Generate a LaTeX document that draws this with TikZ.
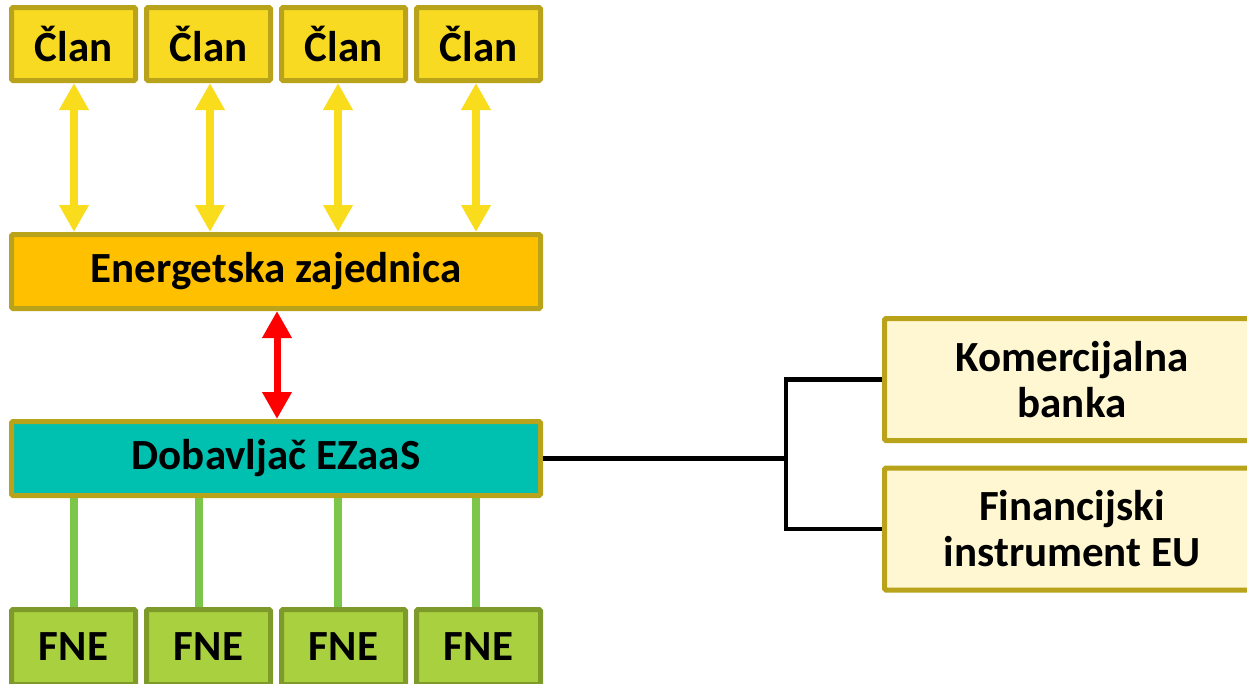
\documentclass[tikz,border=0pt]{standalone}
\usepackage{fontspec}
\setmainfont{Carlito}
\usetikzlibrary{arrows.meta}
\definecolor{olive}{HTML}{B9A31A}
\definecolor{clanfill}{HTML}{F8DA22}
\definecolor{ezfill}{HTML}{FFC000}
\definecolor{dbfill}{HTML}{00C0B0}
\definecolor{fnefill}{HTML}{A9D03E}
\definecolor{fneedge}{HTML}{7D9A2B}
\definecolor{finfill}{HTML}{FEF7D2}
\definecolor{yarr}{HTML}{F9DC1C}
\definecolor{gline}{HTML}{7CC64A}
\tikzset{
  box/.style={draw=olive, line width=5pt, rounded corners=1.5pt, inner sep=0pt, align=center,
    font=\fontsize{43}{46}\selectfont\bfseries},
  clan/.style={box, fill=clanfill, minimum width=124pt, minimum height=73pt},
  wide/.style={box, minimum width=529pt, minimum height=74pt},
  fne/.style={box, draw=fneedge, fill=fnefill, minimum width=124pt, minimum height=75pt},
  fin/.style={box, fill=finfill, minimum width=375pt, minimum height=122pt},
  yarrow/.style={draw=yarr, line width=8pt, {Triangle[width=28pt,length=27pt]}-{Triangle[width=28pt,length=27pt]}},
  rarrow/.style={draw=red, line width=7pt, {Triangle[width=28pt,length=27pt]}-{Triangle[width=28pt,length=27pt]}},
  gconn/.style={draw=gline, line width=8pt},
  bconn/.style={draw=black, line width=4.5pt},
}
\begin{document}
\begin{tikzpicture}[x=1pt,y=-1pt]
\clip (0,0) rectangle (1247,683);
\node[clan] (c1) at (73.5,44) {Član};
\node[clan] (c2) at (208.5,44) {Član};
\node[clan] (c3) at (343.5,44) {Član};
\node[clan] (c4) at (478.5,44) {Član};
\node[wide, fill=ezfill] (ez) at (276,271.5) {Energetska zajednica};
\node[wide, fill=dbfill] (db) at (276,458.5) {Dobavljač EZaaS};
\node[fne] (f1) at (73.5,647) {FNE};
\node[fne] (f2) at (208.5,647) {FNE};
\node[fne] (f3) at (343.5,647) {FNE};
\node[fne] (f4) at (478.5,647) {FNE};
\node[fin] (kb) at (1072,379.5) {Komercijalna\\banka};
\node[fin] (fi) at (1072,529) {Financijski\\instrument EU};
\coordinate (a1) at (74,0);
\coordinate (a2) at (210,0);
\coordinate (a3) at (338,0);
\coordinate (a4) at (476,0);
\coordinate (g1) at (74,0);
\coordinate (g2) at (199,0);
\coordinate (g3) at (338,0);
\coordinate (g4) at (476,0);
\coordinate (ra) at (277,0);
\coordinate (jx) at (786,0);
\draw[yarrow] (c1.south -| a1) -- (ez.north -| a1);
\draw[yarrow] (c2.south -| a2) -- (ez.north -| a2);
\draw[yarrow] (c3.south -| a3) -- (ez.north -| a3);
\draw[yarrow] (c4.south -| a4) -- (ez.north -| a4);
\draw[rarrow] (ez.south -| ra) -- (db.north -| ra);
\draw[gconn] (db.south -| g1) -- (f1.north -| g1);
\draw[gconn] (db.south -| g2) -- (f2.north -| g2);
\draw[gconn] (db.south -| g3) -- (f3.north -| g3);
\draw[gconn] (db.south -| g4) -- (f4.north -| g4);
\draw[bconn] (db.east) -- (db.east -| jx);
\draw[bconn] (kb.west) -- (kb.west -| jx) -- (fi.west -| jx) -- (fi.west);
\end{tikzpicture}
\end{document}
